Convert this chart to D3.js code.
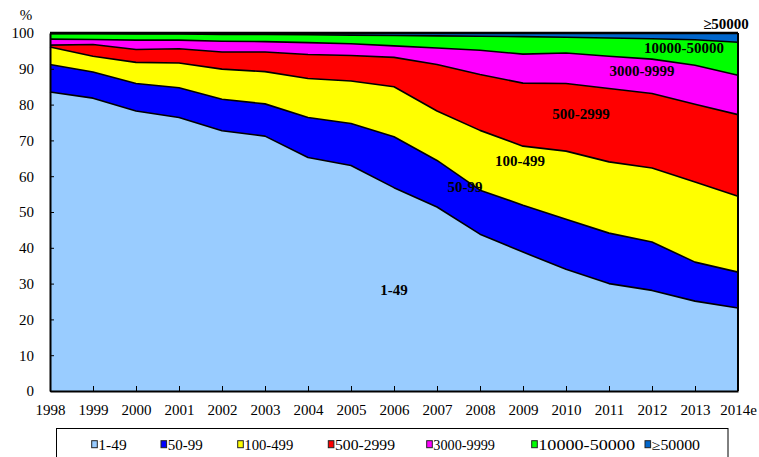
<!DOCTYPE html>
<html>
<head>
<meta charset="utf-8">
<script src="https://cdn.jsdelivr.net/npm/d3@7"></script>
<style>
  html, body { margin: 0; padding: 0; background: #fff; }
  svg { display: block; }
  svg text { font-family: "Liberation Serif", "Times New Roman", serif !important; }
</style>
</head>
<body>
<svg id="chart" width="759" height="457"></svg>
<script>
// ---- data (percent share by band) ----
const years = ["1998","1999","2000","2001","2002","2003","2004","2005","2006","2007","2008","2009","2010","2011","2012","2013","2014e"];
const seriesNames = ["1-49","50-99","100-499","500-2999","3000-9999","10000-50000","\u226550000"];
const s1_49       = [83.5, 81.8, 78.2, 76.4, 72.7, 71.2, 65.2, 63.0, 56.8, 51.4, 43.8, 38.8, 34.0, 30.0, 28.1, 25.1, 23.2];
const s50_99      = [7.7, 7.3, 7.7, 8.3, 8.8, 9.0, 11.2, 11.7, 14.2, 13.0, 12.3, 13.1, 14.0, 14.1, 13.5, 10.9, 10.0];
const s100_499    = [4.9, 4.4, 5.9, 6.9, 8.4, 9.0, 10.9, 11.9, 14.0, 13.8, 16.7, 16.5, 19.0, 19.9, 20.7, 22.4, 21.2];
const s500_2999   = [0.5, 3.3, 3.6, 4.0, 4.8, 5.5, 6.7, 7.1, 8.2, 13.0, 15.6, 17.6, 18.9, 20.5, 20.8, 21.7, 22.8];
const s3000_9999  = [1.7, 1.4, 2.6, 2.4, 3.0, 2.9, 3.3, 3.3, 3.2, 4.6, 6.8, 8.1, 8.5, 9.0, 9.6, 10.9, 11.0];
const s10000_50000= [1.5, 1.6, 1.7, 1.7, 1.9, 2.0, 2.2, 2.4, 2.9, 3.4, 3.9, 4.9, 4.4, 5.1, 5.7, 7.1, 9.2];
const s50000plus  = [0.2, 0.2, 0.3, 0.3, 0.4, 0.4, 0.5, 0.6, 0.7, 0.8, 0.9, 1.0, 1.2, 1.4, 1.6, 1.9, 2.6];
const yTicks = [0,10,20,30,40,50,60,70,80,90,100];
const colors = ["#99CCFF","#0000FF","#FFFF00","#FF0000","#FF00FF","#00FF00","#0066CC"];

const allSeries = [s1_49, s50_99, s100_499, s500_2999, s3000_9999, s10000_50000, s50000plus];
const table = years.map((yr, i) => {
  const row = { year: yr };
  seriesNames.forEach((n, k) => row[n] = allSeries[k][i]);
  return row;
});

// ---- layout ----
const FONT = "'Liberation Serif', 'Times New Roman', serif";
const svg = d3.select("#chart");
const pLeft = 50, pRight = 738, pTop = 33, pBottom = 391;

const x = d3.scalePoint().domain(years).range([pLeft, pRight]);
const y = d3.scaleLinear().domain([0, 100]).range([pBottom, pTop]);

const stacked = d3.stack().keys(seriesNames)(table);

const area = d3.area()
  .x(d => x(d.data.year))
  .y0(d => y(d[0]))
  .y1(d => y(d[1]));

const line = d3.line()
  .x(d => x(d.data.year))
  .y(d => y(d[1]));

const g = svg.append("g");
g.selectAll("path.area").data(stacked).join("path")
  .attr("class", "area")
  .attr("fill", (d, i) => colors[i])
  .attr("d", area);

g.selectAll("path.edge").data(stacked).join("path")
  .attr("class", "edge")
  .attr("fill", "none")
  .attr("stroke", "#000")
  .attr("stroke-width", (d, i) => i === stacked.length - 1 ? 2.5 : 1.6)
  .attr("stroke-linejoin", "round")
  .attr("d", line);

// right edge
g.append("line")
  .attr("x1", x(years[years.length - 1])).attr("x2", x(years[years.length - 1]))
  .attr("y1", y(0)).attr("y2", y(100))
  .attr("stroke", "#000").attr("stroke-width", 2);

// ---- axes ----
const yAxis = d3.axisLeft(y).tickValues(yTicks).tickSizeInner(-4).tickSizeOuter(0).tickPadding(16);
const yg = svg.append("g").attr("transform", `translate(${pLeft},0)`).call(yAxis)
  .attr("font-family", FONT).attr("font-size", 15);
yg.select(".domain").attr("stroke", "#000").attr("stroke-width", 2);
yg.selectAll(".tick line").attr("stroke", "#000").attr("stroke-width", 1);
yg.selectAll(".tick text").style("font-family", FONT).style("font-size", "15px").attr("fill", "#000");

const xAxis = d3.axisBottom(x).tickSizeInner(-5).tickSizeOuter(0).tickPadding(13);
const xg = svg.append("g").attr("transform", `translate(0,${pBottom})`).call(xAxis)
  .attr("font-family", FONT).attr("font-size", 15);
xg.select(".domain").attr("stroke", "#000").attr("stroke-width", 2);
xg.selectAll(".tick line").attr("stroke", "#000").attr("stroke-width", 1);
xg.selectAll(".tick text").style("font-family", FONT).style("font-size", "15px").attr("fill", "#000");

svg.append("text").attr("x", 26).attr("y", 20).attr("text-anchor", "middle")
  .style("font-family", FONT).style("font-size", "15px").text("%");

// ---- in-chart labels ----
const labelPos = [
  { name: "1-49", x: 394, y: 295 },
  { name: "50-99", x: 465, y: 192 },
  { name: "100-499", x: 520, y: 166 },
  { name: "500-2999", x: 581, y: 119 },
  { name: "3000-9999", x: 642, y: 76 },
  { name: "10000-50000", x: 684, y: 53 },
  { name: "\u226550000", x: 726, y: 29 }
];
svg.selectAll("text.lbl").data(labelPos).join("text")
  .attr("class", "lbl")
  .attr("x", d => d.x).attr("y", d => d.y)
  .attr("text-anchor", "middle")
  .style("font-family", FONT).style("font-size", "15px").style("font-weight", "bold")
  .attr("fill", "#000")
  .text(d => d.name);

// ---- legend ----
const legend = svg.append("g");
legend.append("rect").attr("x", 56.5).attr("y", 428.5).attr("width", 671.5).attr("height", 40)
  .attr("fill", "#fff").attr("stroke", "#000").attr("stroke-width", 1);
const legendItems = [
  { sx: 91.7, tx: 98.3, tw: 28.4 },
  { sx: 161, tx: 167.7, tw: 35 },
  { sx: 237.7, tx: 244.3, tw: 49 },
  { sx: 328.3, tx: 335, tw: 60 },
  { sx: 426.7, tx: 433.3, tw: 61.7 },
  { sx: 531.7, tx: 538.3, tw: 96.7 },
  { sx: 645, tx: 651.7, tw: 48.3 }
];
seriesNames.forEach((n, i) => {
  const it = legendItems[i];
  legend.append("rect").attr("x", it.sx).attr("y", 440.7).attr("width", 5.6).attr("height", 7)
    .attr("fill", colors[i]).attr("stroke", "#222").attr("stroke-width", 1);
  legend.append("text").attr("x", it.tx).attr("y", 450)
    .style("font-family", FONT).style("font-size", "14px").attr("fill", "#000")
    .attr("textLength", it.tw).attr("lengthAdjust", "spacingAndGlyphs")
    .text(n);
});
</script>
</body>
</html>
